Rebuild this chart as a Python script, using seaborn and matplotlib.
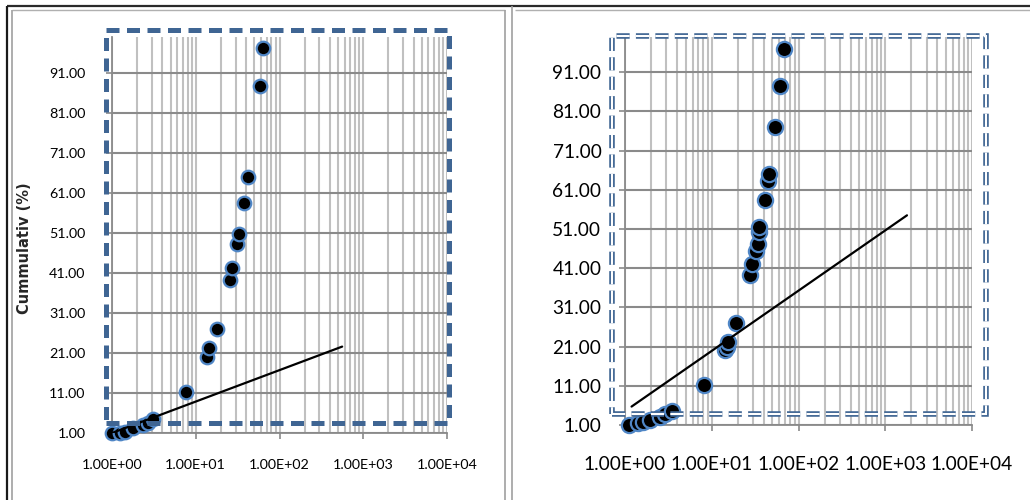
import matplotlib
matplotlib.use("Agg")
import matplotlib.pyplot as plt
from matplotlib.lines import Line2D
from matplotlib.patches import Rectangle
from matplotlib.ticker import FixedLocator, NullFormatter, LogLocator
import seaborn as sns
import pandas as pd

# ---- data -------------------------------------------------------------
left_x = [1.0, 1.25, 1.43, 1.8, 2.37, 2.7, 3.1, 7.6, 13.6, 14.4, 17.9,
          25.6, 27.0, 31.0, 33.0, 37.6, 42.0, 58.5, 63.0]
left_y = [1.0, 1.1, 1.3, 2.2, 3.0, 3.6, 4.4, 11.25, 20.0, 22.25, 27.0,
          39.25, 42.25, 48.25, 50.75, 58.5, 65.0, 87.75, 97.25]
left_trend_x = [1.0, 560.0]
left_trend_y = [1.0, 22.6]

right_x = [1.1, 1.42, 1.62, 1.94, 2.5, 2.9, 3.44, 8.2, 14.4, 14.9, 15.4,
           19.2, 27.4, 29.0, 32.6, 34.0, 35.0, 35.5, 40.7, 44.5, 45.5,
           54.0, 60.6, 67.7]
right_y = [1.0, 1.4, 1.7, 2.3, 3.1, 3.7, 4.6, 11.2, 20.1, 21.0, 22.2,
           27.0, 39.2, 42.1, 45.5, 47.3, 50.2, 51.5, 58.5, 63.2, 65.0,
           77.0, 87.6, 97.0]
right_trend_x = [1.19, 1780.0]
right_trend_y = [5.7, 54.5]

y_ticks = [1, 11, 21, 31, 41, 51, 61, 71, 81, 91]
x_ticks = [1, 10, 100, 1000, 10000]
x_labels = ["1.00E+00", "1.00E+01", "1.00E+02", "1.00E+03", "1.00E+04"]
y_label = "Cummulativ (%)"

# ---- style ------------------------------------------------------------
sns.set_theme(style="white")
plt.rcParams["font.family"] = ["Lato", "DejaVu Sans"]

W, H = 1030, 500
fig = plt.figure(figsize=(W / 100, H / 100), dpi=100)
fig.patch.set_facecolor("white")

H_GRID = "#8a8a8a"
V_GRID = "#c0c0c0"
AXIS = "#8a8a8a"
FRAME = "#3f6593"
EDGE = "#4f86c6"


def px_rect(x0, y_top, x1, y_bot):
    return [x0 / W, (H - y_bot) / H, (x1 - x0) / W, (y_bot - y_top) / H]


def style_axes(ax, fs, xpad, ypad, msize, xs, ys, tx, ty):
    df = pd.DataFrame({"x": xs, "y": ys})
    tr = pd.DataFrame({"x": tx, "y": ty})
    sns.scatterplot(data=df, x="x", y="y", ax=ax, s=msize, color="black",
                    edgecolor=EDGE, linewidth=1.6, zorder=4, clip_on=False)
    sns.lineplot(data=tr, x="x", y="y", ax=ax, color="black", linewidth=1.6,
                 zorder=5)
    ax.set_xscale("log")
    ax.set_xlim(1, 10000)
    ax.set_ylim(1, 100)
    ax.xaxis.set_major_locator(FixedLocator(x_ticks))
    ax.set_xticklabels(x_labels)
    ax.xaxis.set_minor_locator(LogLocator(base=10, subs=range(2, 10)))
    ax.xaxis.set_minor_formatter(NullFormatter())
    ax.set_yticks(y_ticks)
    ax.set_yticklabels([f"{v:.2f}" for v in y_ticks])
    ax.set_xlabel("")
    ax.set_ylabel("")
    ax.grid(False)
    for v in y_ticks:
        ax.axhline(v, color=H_GRID, lw=1.5, zorder=1)
    for d in range(0, 4):
        for m in range(1, 10):
            ax.axvline(m * 10 ** d, color=V_GRID, lw=1.5, zorder=0.9)
    ax.axvline(10000, color=V_GRID, lw=1.5, zorder=0.9)
    for side in ("top", "right"):
        ax.spines[side].set_visible(False)
    for side in ("left", "bottom"):
        ax.spines[side].set_color(AXIS)
        ax.spines[side].set_linewidth(1.3)
    ax.tick_params(axis="both", which="major", direction="out", length=4,
                   width=1.2, color=AXIS, labelsize=fs, labelcolor="black")
    ax.tick_params(axis="x", which="major", pad=xpad, bottom=True)
    ax.tick_params(axis="y", which="major", pad=ypad, left=True)
    ax.tick_params(axis="x", which="minor", bottom=False)
    ax.set_facecolor("white")


# ---- left chart -------------------------------------------------------
axL = fig.add_axes(px_rect(112, 37, 447, 433))
style_axes(axL, 10.3, 15, 15, 95, left_x, left_y, left_trend_x, left_trend_y)
fig.text(25 / W, 1 - 248 / H, y_label, rotation=90, ha="center",
         va="center", fontsize=10.5, fontweight="bold",
         family=["DejaVu Sans"])

# ---- right chart ------------------------------------------------------
axR = fig.add_axes(px_rect(625, 37, 972, 425))
style_axes(axR, 13.8, 18, 13, 120, right_x, right_y, right_trend_x,
           right_trend_y)

# ---- dashed selection frames -----------------------------------------
x0, yt, x1, yb = 106, 30, 449, 423
fig.patches.append(Rectangle((x0 / W, (H - yb) / H), (x1 - x0) / W,
                             (yb - yt) / H, transform=fig.transFigure,
                             fill=False, edgecolor=FRAME, linewidth=3.6,
                             linestyle=(0, (2.6, 1.5)), joinstyle="round",
                             zorder=10))

x0, yt, x1, yb = 612, 36, 986, 414
for lw, col in ((4.0, FRAME), (1.5, "white")):
    fig.patches.append(Rectangle((x0 / W, (H - yb) / H), (x1 - x0) / W,
                                 (yb - yt) / H, transform=fig.transFigure,
                                 fill=False, edgecolor=col, linewidth=lw,
                                 linestyle=(0, (9.5 / lw, 4.5 / lw)),
                                 zorder=10))

# ---- panel borders ----------------------------------------------------
def fline(xs, ys, color, lw):
    fig.add_artist(Line2D([x / W for x in xs], [1 - y / H for y in ys],
                          transform=fig.transFigure, color=color,
                          linewidth=lw, solid_capstyle="butt"))


fline([7, W], [6, 6], "#2a2a2a", 1.6)
fline([7, 7], [6, H], "#1a1a1a", 1.6)
fline([12, 505], [9.5, 9.5], "#b0b0b0", 1.0)
fline([515, W], [9.5, 9.5], "#b0b0b0", 1.0)
fline([12, 12], [9.5, H], "#a0a0a0", 1.2)
fline([505, 505], [9.5, H], "#a0a0a0", 1.2)
fline([511.5, 511.5], [6, H], "#a0a0a0", 1.2)

fig.savefig("out.png", dpi=100, facecolor="white")
